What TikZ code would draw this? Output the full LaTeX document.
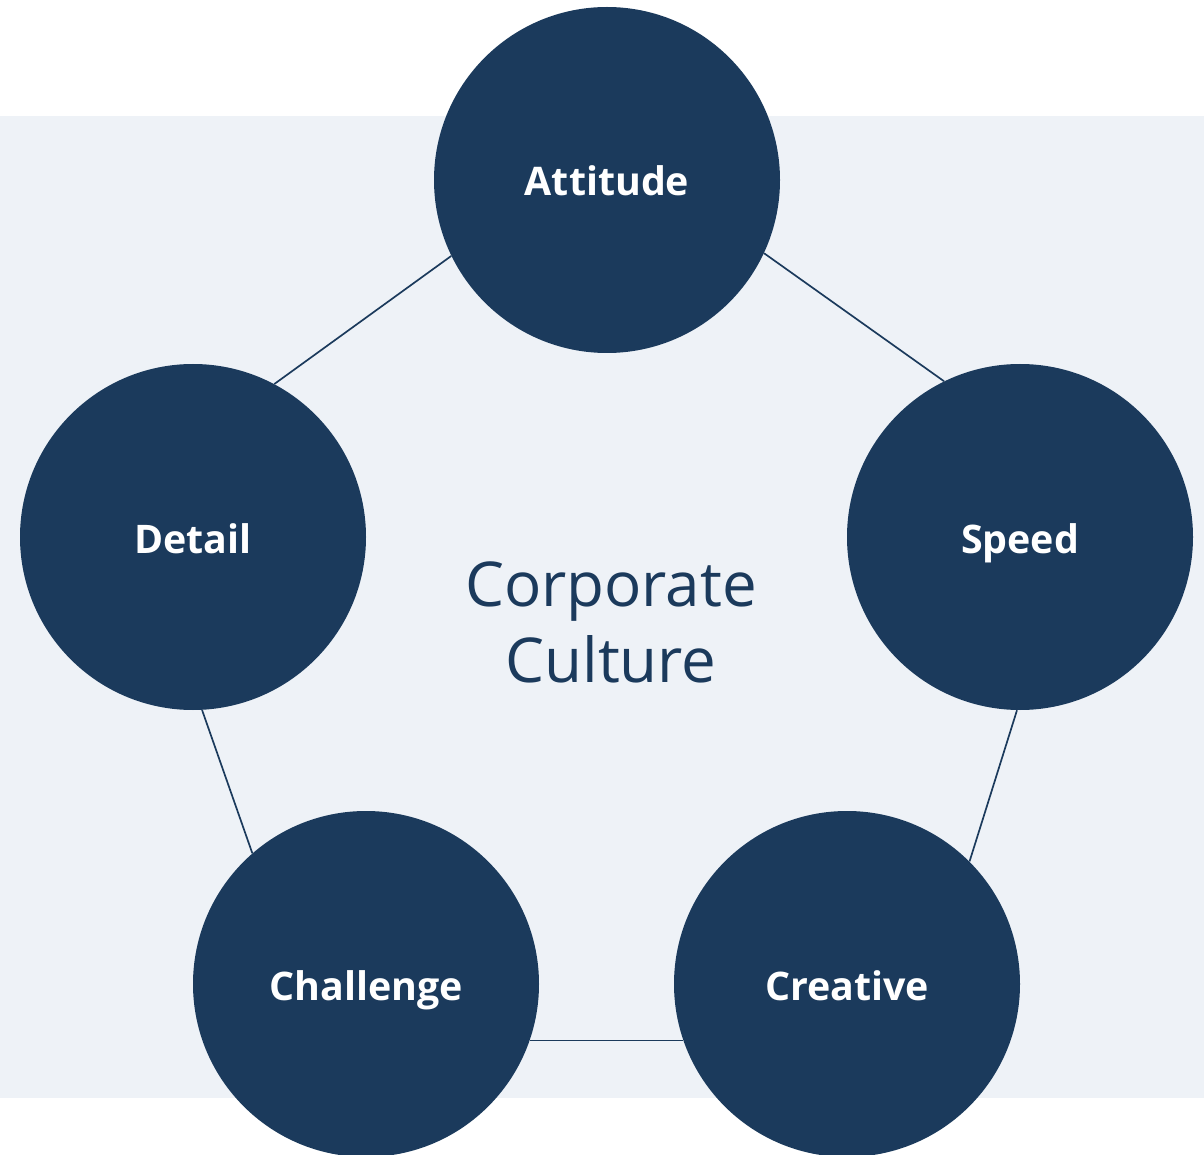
\documentclass[tikz,border=0pt]{standalone}
\usepackage{fontspec}
\setsansfont{Open Sans}
\usetikzlibrary{positioning}
\definecolor{cnavy}{HTML}{1B3A5C}
\definecolor{cpale}{HTML}{EEF2F7}
\tikzset{
  every picture/.style={font=\sffamily},
  value/.style={circle, fill=cnavy, minimum size=8.65cm, inner sep=0pt, text=white, text height=0.95cm, text depth=0.15cm, font=\sffamily\bfseries\fontsize{28}{32}\selectfont},
  link/.style={draw=cnavy, line width=1.2pt},
  core/.style={text=cnavy, align=center, font=\sffamily\fontsize{44}{54}\selectfont},
}
\begin{document}
\begin{tikzpicture}
  \useasboundingbox (0,0) rectangle (30.1,-28.875);
  \fill[cpale] (0,-2.9) rectangle (30.1,-27.45);
  \node[value] (att) at (15.175,-4.5) {Attitude};
  \node[value] (det) at (4.825,-13.425) {Detail};
  \node[value] (spd) at (25.5,-13.425) {Speed};
  \node[value] (chl) at (9.15,-24.6) {Challenge};
  \node[value] (crt) at (21.175,-24.6) {Creative};
  \draw[link] (att.206.7) -- (det.62);
  \draw[link] (att.335) -- (spd.116);
  \draw[link] (spd.269) -- (crt.45.5);
  \draw[link] (det.273.6) -- (chl.131);
  \draw[link] (chl.341) -- (crt.199);
  \node[core] (cc) at (15.275,-15.55) {Corporate\\Culture};
\end{tikzpicture}
\end{document}
